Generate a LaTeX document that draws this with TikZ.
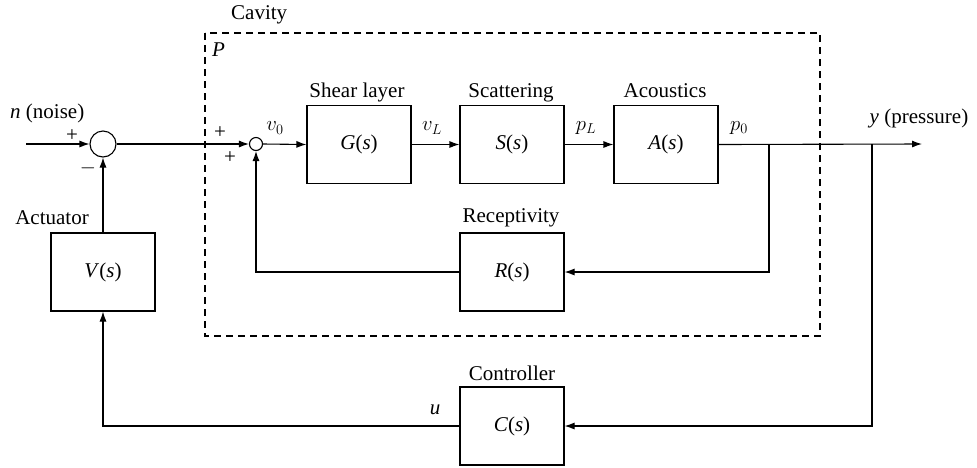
\documentclass[tikz,border=0pt]{standalone}
\usepackage{fontspec}
\setmainfont{Liberation Serif}
\usetikzlibrary{arrows.meta}
\begin{document}
\begin{tikzpicture}[x=1pt,y=-1pt,
  every node/.style={font=\fontsize{21}{25}\selectfont, inner sep=0pt},
  blk/.style={draw, line width=1.1pt, minimum width=104pt, minimum height=78pt},
  sumc/.style={draw, circle, line width=1.1pt},
  arr/.style={line width=1.1pt, -{Latex[length=10pt,width=7pt]}}]
\useasboundingbox (0,0) rectangle (977,467);
% dashed cavity box
\draw[line width=1.1pt, dash pattern=on 7pt off 5pt] (205,33) rectangle (820,336);
\node[anchor=base west] (cav) at (231,19) {Cavity};
\node[anchor=base west] (P) at (212,56) {\textit{P}};
% blocks
\node[blk] (G) at (359,144.5) {\textit{G}(\textit{s})};
\node[blk] (S) at (512,144.5) {\textit{S}(\textit{s})};
\node[blk] (A) at (666,144.5) {\textit{A}(\textit{s})};
\node[blk] (R) at (512,272) {\textit{R}(\textit{s})};
\node[blk] (V) at (103,272) {\textit{V}(\textit{s})};
\node[blk] (C) at (512,426) {\textit{C}(\textit{s})};
% block titles
\node[anchor=base] (tG) at (357,97) {Shear layer};
\node[anchor=base] (tS) at (511,97) {Scattering};
\node[anchor=base] (tA) at (665,97) {Acoustics};
\node[anchor=base] (tR) at (511,222) {Receptivity};
\node[anchor=base] (tC) at (512,380) {Controller};
\node[anchor=base] (tV) at (52,224) {Actuator};
% summing junctions
\node[sumc, minimum size=26pt] (s1) at (103,144) {};
\node[sumc, minimum size=13pt] (s2) at (256,144) {};
% coordinates
\coordinate (in) at (26,144);
\coordinate (b1) at (769,144);
\coordinate (b2) at (872,144);
\coordinate (out) at (922,144);
% main path
\draw[arr] (in) -- (s1.west);
\draw[arr] (s1.east) -- (s2.west);
\draw[arr] (s2.east) -- (G.west);
\draw[arr] (G.east) -- (S.west);
\draw[arr] (S.east) -- (A.west);
\draw[arr] (A.east) -- (out);
% receptivity loop
\draw[arr] (b1) |- (R.east);
\draw[arr] (R.west) -| (s2.south);
% controller loop
\draw[arr] (b2) |- (C.east);
\draw[arr] (C.west) -| (V.south);
\draw[arr] (V.north) -- (s1.south);
% signal labels
\node[anchor=base west] (nl) at (10,118) {\textit{n} (noise)};
\node (pl1) at (72,136) {+};
\node (mi1) at (88,168) {$-$};
\node (pl2) at (220,133) {+};
\node (pl3) at (230,158) {+};
\node (v0) at (275,128) {$v_0$};
\node (vL) at (432,128) {$v_L$};
\node (pL) at (586,128) {$p_L$};
\node (p0) at (739,128) {$p_0$};
\node[anchor=base] (yl) at (919,123) {\textit{y} (pressure)};
\node (ul) at (435,410) {\textit{u}};
\end{tikzpicture}
\end{document}
